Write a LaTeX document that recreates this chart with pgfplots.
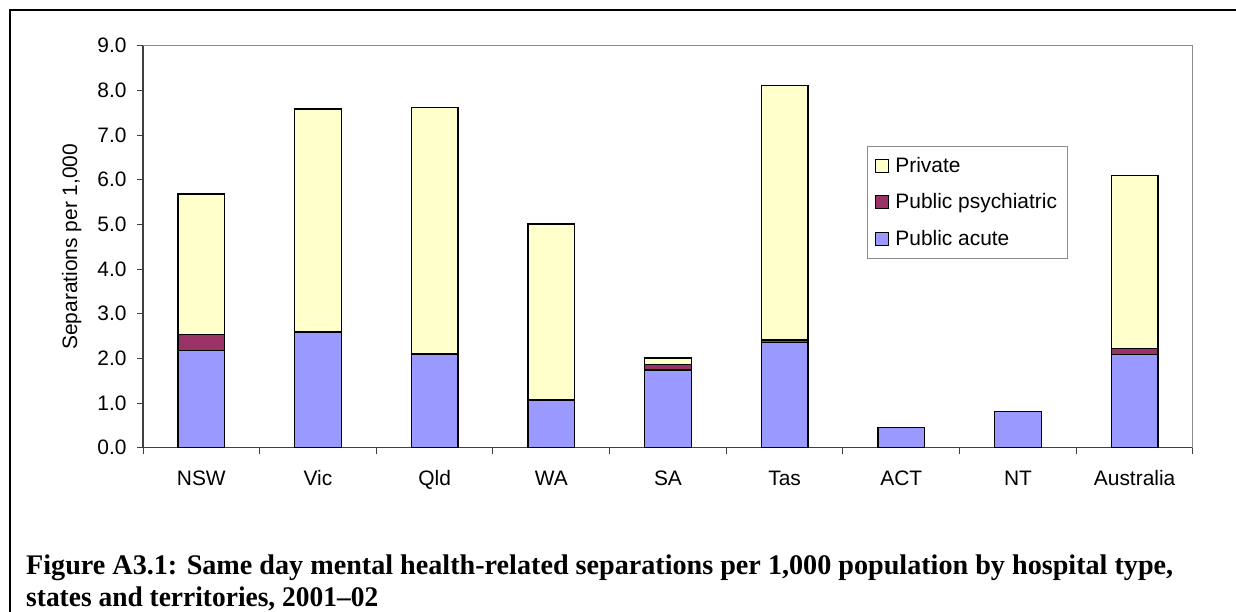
\documentclass[border=0pt]{standalone}
\usepackage{pgfplots}
\pgfplotsset{compat=1.18}
\usepackage{fontspec}
\setmainfont{Liberation Sans}
\newfontfamily\capfont{Liberation Serif}
\definecolor{acute}{HTML}{9999FF}
\definecolor{psych}{HTML}{993366}
\definecolor{priv}{HTML}{FFFFCC}
\definecolor{axgray}{HTML}{8C8C8C}
\definecolor{axdark}{HTML}{404040}
\begin{document}
\begin{tikzpicture}[x=1bp,y=1bp]
\clip (0,0) rectangle (1236,612);
\draw[line width=2.2bp] (10,-100) -- (10,602) -- (1300,602);
\begin{axis}[
  at={(143bp,164.3bp)}, anchor=south west,
  scale only axis, width=1050bp, height=402bp,
  xmin=-0.5, xmax=8.5, ymin=0, ymax=9,
  ybar stacked, bar width=0.4,
  axis x line*=bottom, axis y line*=left,
  axis line style={draw=axdark, line width=1.2bp},
  xtick={0,...,8},
  xticklabels={NSW,Vic,Qld,WA,SA,Tas,ACT,NT,Australia},
  major x tick style={draw=none},
  minor xtick={-0.5,0.5,...,8.5},
  minor tick length=6bp,
  ytick={0,1,...,9},
  major tick length=6bp,
  tick align=outside,
  tick style={draw=axdark, line width=1bp},
  /pgf/number format/assume math mode=true,
  yticklabel style={font=\fontsize{21}{25}\selectfont, /pgf/number format/fixed,/pgf/number format/fixed zerofill,/pgf/number format/precision=1, xshift=-7bp},
  xticklabel style={font=\fontsize{21}{25}\selectfont, text height=16bp, text depth=4bp, yshift=-12bp},
  ylabel={Separations per 1,000},
  every axis y label/.style={at={(rel axis cs:-0.068,0.5)}, rotate=90, anchor=center, font=\fontsize{21}{25}\selectfont},
  legend style={at={(0.6895,0.7512)}, anchor=north west, draw=axgray, line width=1bp, font=\fontsize{21}{25}\selectfont, row sep=16bp, inner xsep=8bp, inner ysep=9bp, /tikz/every odd column/.append style={column sep=4bp}},
  reverse legend,
  legend cell align=left,
  legend image code/.code={\draw[#1,draw=black,line width=1bp] (0bp,-6.5bp) rectangle (13bp,6.5bp);},
]
\addplot[fill=acute, draw=black, line width=1.3bp] coordinates {(0,2.18) (1,2.59) (2,2.10) (3,1.07) (4,1.74) (5,2.36) (6,0.45) (7,0.81) (8,2.09)};
\addplot[fill=psych, draw=black, line width=1.3bp] coordinates {(0,0.36) (1,0) (2,0) (3,0) (4,0.13) (5,0.05) (6,0) (7,0) (8,0.13)};
\addplot[fill=priv, draw=black, line width=1.3bp] coordinates {(0,3.14) (1,4.99) (2,5.51) (3,3.94) (4,0.14) (5,5.70) (6,0) (7,0) (8,3.87)};
\legend{Public acute, Public psychiatric, Private}
\draw[axgray, line width=1.5bp] (rel axis cs:0,1) -- (rel axis cs:1,1) -- (rel axis cs:1,0);
\end{axis}
\node[anchor=base west, inner sep=0] at (26,37) {\resizebox{1147bp}{\height}{\capfont\bfseries\fontsize{28.5}{30}\selectfont Figure A3.1: Same day mental health-related separations per 1,000 population by hospital type,}};
\node[anchor=base west, inner sep=0] at (26,5) {\resizebox{352bp}{\height}{\capfont\bfseries\fontsize{28.5}{30}\selectfont states and territories, 2001–02}};
\end{tikzpicture}
\end{document}
